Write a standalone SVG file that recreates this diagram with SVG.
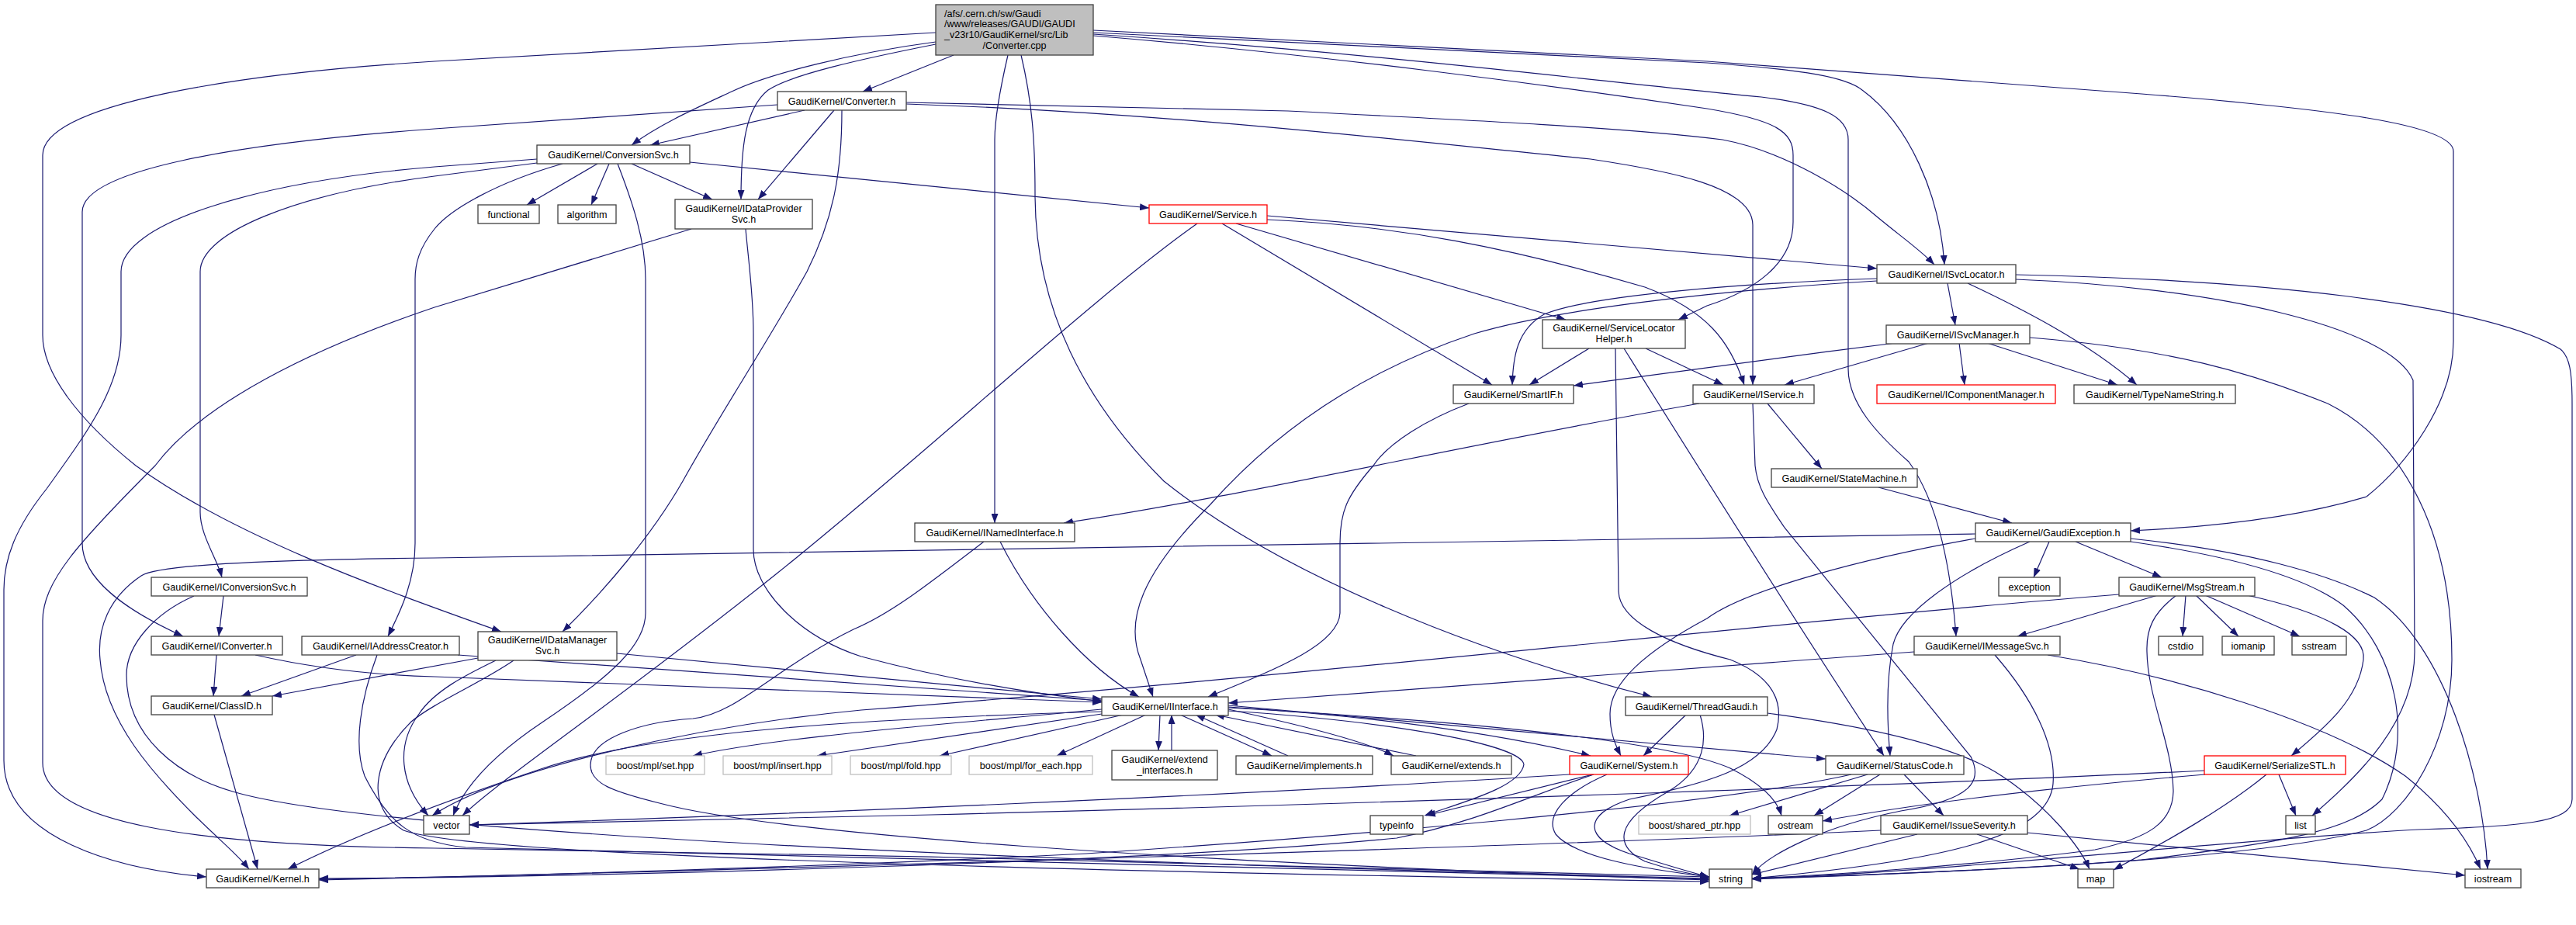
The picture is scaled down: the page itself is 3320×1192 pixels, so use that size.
<svg xmlns="http://www.w3.org/2000/svg" width="3320" height="1192" viewBox="0 0 3320 1192">
<defs>
<marker id="ah" markerUnits="userSpaceOnUse" markerWidth="12" markerHeight="9" refX="12" refY="4.5" orient="auto"><path d="M0,0 L12,4.5 L0,9 z" fill="#191970"/></marker>
<style>
.node rect{fill:#fff;stroke:#404040;stroke-width:1.3}
.node.gray rect{stroke:#bfbfbf}
.node.red rect{stroke:#ff0000}
.node.root rect{fill:#bfbfbf}
.node text{font-family:"Liberation Sans",Arial,Helvetica,sans-serif;font-size:12.6px;fill:#000;text-anchor:middle}
.node text.l{text-anchor:start}
#edges path{fill:none;stroke:#191970;stroke-width:1.2;marker-end:url(#ah)}
</style>
</defs>
<rect width="3320" height="1192" fill="#fff"/>
<g id="edges">
<path d="M1229,71 L1112,118"/>
<path d="M1206,54 C1100,68 990,95 943,118 C900,138 850,160 814,187"/>
<path d="M1206,57 C1110,76 1020,96 990,116 C960,140 955,190 955,257"/>
<path d="M1206,42 L560,79 C300,95 55,135 55,200 L55,432 C55,480 100,540 175,600 C300,690 480,755 646,814"/>
<path d="M1299,71 C1290,110 1282,150 1282,180 L1282,674"/>
<path d="M1316,71 C1330,130 1334,180 1334,250 C1334,400 1400,520 1500,620 C1650,740 1900,840 2129,898"/>
<path d="M1409,42 L2200,81 C2330,90 2380,100 2400,116 C2460,160 2500,250 2506,341"/>
<path d="M1409,46 C1700,70 2000,110 2200,140 C2290,155 2311,170 2311,200 L2311,286 C2311,340 2260,375 2200,394 L2163,412"/>
<path d="M1409,44 C1800,70 2100,110 2270,125 C2350,135 2382,150 2382,180 L2382,475 C2382,520 2420,560 2460,595 C2500,650 2515,740 2521,820"/>
<path d="M1409,39 L2200,79 L2760,121 C3000,140 3162,160 3162,195 L3162,440 C3162,520 3100,600 3050,640 C2950,670 2830,680 2746,684"/>
<path d="M1037,142 L838,187"/>
<path d="M1075,142 L977,257"/>
<path d="M1085,142 C1085,220 1075,280 1040,350 C990,440 930,530 880,620 C840,690 780,760 725,814"/>
<path d="M1002,135 L560,166 C300,185 106,220 106,273 L106,700 C106,750 170,790 236,820"/>
<path d="M1168,132 L1660,143 C1900,155 2100,165 2220,180 C2300,195 2380,245 2420,280 C2450,305 2475,322 2493,341"/>
<path d="M1168,134 C1500,145 1800,180 2050,205 C2150,220 2259,240 2259,290 L2259,496"/>
<path d="M770,211 L679,264"/>
<path d="M785,211 L762,264"/>
<path d="M814,211 L918,257"/>
<path d="M889,209 L1481,268"/>
<path d="M692,210 L560,227 C380,250 258,300 258,350 L258,660 C258,690 280,720 286,744"/>
<path d="M725,211 C640,235 580,270 560,295 C540,320 535,340 535,360 L535,700 C535,750 515,790 500,820"/>
<path d="M796,211 C815,260 832,310 832,360 L832,790 C832,830 790,870 700,930 C640,970 600,1010 584,1051"/>
<path d="M692,205 L560,215 C320,235 156,290 156,350 L156,432 C156,500 110,560 60,630 C20,680 5,720 5,760 L5,980 C5,1080 150,1120 266,1130"/>
<path d="M891,295 L560,396 C400,450 260,520 200,600 C100,700 55,750 55,800 L55,983 C55,1060 250,1090 560,1093 C1100,1100 1700,1115 2203,1130"/>
<path d="M961,295 C965,340 971,380 971,430 L971,708 C971,760 1030,820 1110,846 C1200,870 1300,890 1420,904"/>
<path d="M1543,288 C1400,390 1200,580 1000,740 C800,900 650,1000 596,1051"/>
<path d="M1633,278 L2419,346"/>
<path d="M1633,283 C1800,290 1950,320 2120,370 C2200,400 2230,440 2248,496"/>
<path d="M1575,288 L1923,496"/>
<path d="M1593,288 L2018,412"/>
<path d="M2510,365 L2520,419"/>
<path d="M2536,365 C2600,395 2690,440 2754,496"/>
<path d="M2419,359 C2250,365 2050,380 1990,405 C1955,425 1950,460 1949,496"/>
<path d="M2419,362 C2200,375 2000,400 1900,430 C1750,480 1640,560 1560,650 C1470,740 1450,800 1470,850 L1486,898"/>
<path d="M2598,354 C2900,360 3200,390 3300,450 C3312,460 3315,480 3315,520 L3315,1030 C3315,1060 3250,1065 3117,1069 C2900,1080 2500,1125 2258,1132"/>
<path d="M2598,360 C2850,370 3080,420 3110,490 L3112,840 C3112,930 3040,1000 2980,1051"/>
<path d="M2443,442 C2300,460 2150,480 2028,497"/>
<path d="M2486,442 L2300,496"/>
<path d="M2525,442 L2532,496"/>
<path d="M2561,442 L2729,496"/>
<path d="M2616,435 C2800,450 2900,480 3000,520 C3100,570 3160,690 3160,850 C3160,960 3100,1050 3050,1070 C2900,1110 2500,1125 2258,1132"/>
<path d="M2048,449 L1971,496"/>
<path d="M2121,449 L2221,496"/>
<path d="M2093,449 C2150,540 2300,780 2428,974"/>
<path d="M2082,449 L2086,761 C2086,800 2150,830 2230,850 C2280,870 2300,900 2290,940 C2270,990 2200,1010 2100,1030 C2040,1050 2040,1080 2100,1100 C2150,1115 2180,1125 2203,1130"/>
<path d="M2278,520 L2348,604"/>
<path d="M2190,520 C1900,570 1600,640 1371,674"/>
<path d="M2259,520 L2262,600 C2265,630 2280,650 2300,680 L2540,975 C2555,1005 2545,1030 2450,1045 C2350,1065 2280,1100 2258,1127"/>
<path d="M1893,520 C1840,540 1790,570 1770,600 C1735,640 1727,660 1727,700 L1727,790 C1725,830 1650,860 1557,898"/>
<path d="M2421,628 L2593,674"/>
<path d="M1289,698 C1330,780 1400,860 1468,898"/>
<path d="M1268,698 C1200,750 1150,790 1100,811 C1000,860 950,920 893,926 C830,930 761,950 761,986 C761,1010 790,1020 850,1035 C1000,1075 1500,1110 2203,1134"/>
<path d="M2546,688 L560,719 C300,722 200,730 182,742 C140,770 125,810 129,850 C135,930 200,1000 250,1050 C280,1080 305,1100 321,1120"/>
<path d="M2641,698 L2621,744"/>
<path d="M2675,698 L2786,744"/>
<path d="M2546,694 C2400,720 2250,760 2200,797 C2120,840 2075,880 2075,920 C2075,945 2082,960 2089,974"/>
<path d="M2616,698 C2520,740 2450,790 2440,830 C2430,880 2432,930 2436,974"/>
<path d="M2746,694 C2900,710 3000,740 3060,770 C3150,830 3200,1000 3206,1120"/>
<path d="M2746,698 C2900,720 2980,750 3020,780 C3090,840 3110,950 3070,1030 C3030,1070 2950,1085 2760,1108 C2600,1120 2400,1128 2258,1133"/>
<path d="M2817,767 L2813,820"/>
<path d="M2830,767 L2885,820"/>
<path d="M2842,767 L2964,820"/>
<path d="M2896,767 C3000,790 3050,820 3046,850 C3040,900 3000,935 2953,974"/>
<path d="M2781,767 L2600,820"/>
<path d="M2805,767 C2775,790 2766,810 2767,840 C2768,900 2800,960 2801,1020 C2800,1060 2770,1080 2700,1095 C2550,1115 2350,1128 2258,1132"/>
<path d="M2731,766 C2300,800 1700,870 1110,915 C900,935 650,990 557,1051"/>
<path d="M2467,840 L1583,906"/>
<path d="M2571,844 C2620,900 2650,960 2646,1010 C2640,1080 2500,1110 2258,1132"/>
<path d="M2639,844 C2800,870 3000,930 3100,1000 C3150,1040 3180,1080 3197,1120"/>
<path d="M288,768 L282,820"/>
<path d="M250,768 C200,790 163,830 163,870 C163,950 230,1000 300,1020 C500,1080 1500,1115 2203,1132"/>
<path d="M279,844 L275,897"/>
<path d="M329,844 C400,860 480,870 560,872 L1420,905"/>
<path d="M459,844 L311,897"/>
<path d="M590,844 L1420,903"/>
<path d="M486,844 C465,900 455,960 470,1000 C500,1060 530,1085 600,1092 C1200,1110 1800,1122 2203,1133"/>
<path d="M616,848 C500,870 420,885 351,897"/>
<path d="M795,842 L1420,901"/>
<path d="M639,851 C600,870 560,890 540,920 C510,960 515,1010 552,1051"/>
<path d="M662,851 C620,880 560,905 530,930 C480,980 470,1040 520,1070 C600,1100 1200,1120 2203,1136"/>
<path d="M276,921 L332,1120"/>
<path d="M1420,917 C1150,925 850,940 700,990 C550,1040 450,1080 371,1120"/>
<path d="M1420,914 C1200,935 1000,950 893,974"/>
<path d="M1420,920 L1053,974"/>
<path d="M1448,921 L1211,974"/>
<path d="M1477,921 L1362,974"/>
<path d="M1495,921 L1493,967"/>
<path d="M1510,967 L1510,921"/>
<path d="M1521,921 L1639,974"/>
<path d="M1660,974 L1541,921"/>
<path d="M1583,914 C1680,935 1760,955 1796,974"/>
<path d="M1825,974 L1566,921"/>
<path d="M1583,911 C1800,925 1950,950 2050,974"/>
<path d="M1583,909 L2353,978"/>
<path d="M1583,912 C1900,930 2150,955 2230,990 C2270,1010 2290,1030 2296,1051"/>
<path d="M1583,916 C1800,930 1960,960 1964,985 C1960,1015 1880,1035 1836,1051"/>
<path d="M2173,921 L2118,974"/>
<path d="M2191,921 C2200,950 2200,990 2150,1020 C2080,1060 2080,1090 2120,1110 C2150,1120 2180,1127 2203,1130"/>
<path d="M2278,919 C2400,935 2520,960 2580,1000 C2640,1040 2680,1090 2693,1120"/>
<path d="M2053,998 L1838,1051"/>
<path d="M2023,998 C1600,1025 1000,1050 605,1063"/>
<path d="M2054,998 C1960,1030 1900,1060 1800,1080 C1500,1110 800,1130 411,1132"/>
<path d="M2071,998 C2020,1020 1990,1050 2005,1075 C2030,1105 2120,1120 2203,1130"/>
<path d="M2407,998 L2229,1051"/>
<path d="M2423,998 L2338,1051"/>
<path d="M2454,998 L2505,1051"/>
<path d="M2386,998 C2200,1040 1700,1080 1400,1100 C1000,1120 600,1130 411,1133"/>
<path d="M2841,993 C2500,1010 1800,1035 1200,1050 C900,1058 700,1062 605,1063"/>
<path d="M2842,998 C2700,1010 2500,1030 2349,1058"/>
<path d="M2937,998 L2959,1051"/>
<path d="M2921,998 C2870,1040 2800,1080 2724,1121"/>
<path d="M2424,1070 C2000,1090 1000,1120 411,1134"/>
<path d="M2471,1075 L2258,1127"/>
<path d="M2548,1075 L2680,1120"/>
<path d="M2612,1073 L3177,1128"/>
</g>
<g id="n-root" class="node root"><rect x="1206" y="6" width="203" height="65"/><text class="l" x="1217" y="21.5">/afs/.cern.ch/sw/Gaudi</text><text class="l" x="1217" y="35">/www/releases/GAUDI/GAUDI</text><text class="l" x="1217" y="48.8">_v23r10/GaudiKernel/src/Lib</text><text x="1307.5" y="62.7">/Converter.cpp</text></g>
<g id="n-conv" class="node"><rect x="1002" y="118" width="166" height="24"/><text x="1085" y="134.5">GaudiKernel/Converter.h</text></g>
<g id="n-csvc" class="node"><rect x="692" y="187" width="197" height="24"/><text x="790.5" y="203.5">GaudiKernel/ConversionSvc.h</text></g>
<g id="n-func" class="node"><rect x="616" y="264" width="79" height="24"/><text x="655.5" y="280.5">functional</text></g>
<g id="n-algo" class="node"><rect x="719" y="264" width="75" height="24"/><text x="756.5" y="280.5">algorithm</text></g>
<g id="n-idp" class="node"><rect x="870" y="257" width="177" height="38"/><text x="958.5" y="272.5">GaudiKernel/IDataProvider</text><text x="958.5" y="286.5">Svc.h</text></g>
<g id="n-serv" class="node red"><rect x="1481" y="264" width="152" height="24"/><text x="1557" y="280.5">GaudiKernel/Service.h</text></g>
<g id="n-isl" class="node"><rect x="2419" y="341" width="179" height="24"/><text x="2508.5" y="357.5">GaudiKernel/ISvcLocator.h</text></g>
<g id="n-slh" class="node"><rect x="1988" y="412" width="184" height="37"/><text x="2080" y="427">GaudiKernel/ServiceLocator</text><text x="2080" y="441">Helper.h</text></g>
<g id="n-ism" class="node"><rect x="2431" y="419" width="185" height="24"/><text x="2523.5" y="435.5">GaudiKernel/ISvcManager.h</text></g>
<g id="n-sif" class="node"><rect x="1873" y="496" width="155" height="24"/><text x="1950.5" y="512.5">GaudiKernel/SmartIF.h</text></g>
<g id="n-isv" class="node"><rect x="2182" y="496" width="156" height="24"/><text x="2260" y="512.5">GaudiKernel/IService.h</text></g>
<g id="n-icm" class="node red"><rect x="2419" y="496" width="230" height="24"/><text x="2534" y="512.5">GaudiKernel/IComponentManager.h</text></g>
<g id="n-tns" class="node"><rect x="2673" y="496" width="208" height="24"/><text x="2777" y="512.5">GaudiKernel/TypeNameString.h</text></g>
<g id="n-stm" class="node"><rect x="2283" y="604" width="188" height="24"/><text x="2377" y="620.5">GaudiKernel/StateMachine.h</text></g>
<g id="n-ini" class="node"><rect x="1179" y="674" width="206" height="24"/><text x="1282" y="690.5">GaudiKernel/INamedInterface.h</text></g>
<g id="n-gex" class="node"><rect x="2546" y="674" width="200" height="24"/><text x="2646" y="690.5">GaudiKernel/GaudiException.h</text></g>
<g id="n-ics" class="node"><rect x="195" y="744" width="201" height="24"/><text x="295.5" y="760.5">GaudiKernel/IConversionSvc.h</text></g>
<g id="n-exc" class="node"><rect x="2576" y="744" width="79" height="24"/><text x="2615.5" y="760.5">exception</text></g>
<g id="n-msg" class="node"><rect x="2731" y="744" width="175" height="24"/><text x="2818.5" y="760.5">GaudiKernel/MsgStream.h</text></g>
<g id="n-icv" class="node"><rect x="195" y="820" width="169" height="24"/><text x="279.5" y="836.5">GaudiKernel/IConverter.h</text></g>
<g id="n-iac" class="node"><rect x="389" y="820" width="203" height="24"/><text x="490.5" y="836.5">GaudiKernel/IAddressCreator.h</text></g>
<g id="n-idm" class="node"><rect x="616" y="814" width="179" height="37"/><text x="705.5" y="829">GaudiKernel/IDataManager</text><text x="705.5" y="843">Svc.h</text></g>
<g id="n-ims" class="node"><rect x="2467" y="820" width="188" height="24"/><text x="2561" y="836.5">GaudiKernel/IMessageSvc.h</text></g>
<g id="n-cstdio" class="node"><rect x="2782" y="820" width="57" height="24"/><text x="2810.5" y="836.5">cstdio</text></g>
<g id="n-iomanip" class="node"><rect x="2864" y="820" width="67" height="24"/><text x="2897.5" y="836.5">iomanip</text></g>
<g id="n-sstream" class="node"><rect x="2954" y="820" width="70" height="24"/><text x="2989" y="836.5">sstream</text></g>
<g id="n-cid" class="node"><rect x="195" y="897" width="156" height="24"/><text x="273" y="913.5">GaudiKernel/ClassID.h</text></g>
<g id="n-iif" class="node"><rect x="1420" y="898" width="163" height="24"/><text x="1501.5" y="914.5">GaudiKernel/IInterface.h</text></g>
<g id="n-thg" class="node"><rect x="2095" y="898" width="183" height="24"/><text x="2186.5" y="914.5">GaudiKernel/ThreadGaudi.h</text></g>
<g id="n-set" class="node gray"><rect x="781" y="974" width="127" height="24"/><text x="844.5" y="990.5">boost/mpl/set.hpp</text></g>
<g id="n-insert" class="node gray"><rect x="932" y="974" width="140" height="24"/><text x="1002" y="990.5">boost/mpl/insert.hpp</text></g>
<g id="n-fold" class="node gray"><rect x="1096" y="974" width="130" height="24"/><text x="1161" y="990.5">boost/mpl/fold.hpp</text></g>
<g id="n-foreach" class="node gray"><rect x="1249" y="974" width="159" height="24"/><text x="1328.5" y="990.5">boost/mpl/for_each.hpp</text></g>
<g id="n-ext" class="node"><rect x="1433" y="967" width="136" height="38"/><text x="1501" y="982.5">GaudiKernel/extend</text><text x="1501" y="996.5">_interfaces.h</text></g>
<g id="n-impl" class="node"><rect x="1593" y="974" width="176" height="24"/><text x="1681" y="990.5">GaudiKernel/implements.h</text></g>
<g id="n-exts" class="node"><rect x="1793" y="974" width="155" height="24"/><text x="1870.5" y="990.5">GaudiKernel/extends.h</text></g>
<g id="n-sys" class="node red"><rect x="2023" y="974" width="153" height="24"/><text x="2099.5" y="990.5">GaudiKernel/System.h</text></g>
<g id="n-stc" class="node"><rect x="2353" y="974" width="178" height="24"/><text x="2442" y="990.5">GaudiKernel/StatusCode.h</text></g>
<g id="n-ser" class="node red"><rect x="2841" y="974" width="182" height="24"/><text x="2932" y="990.5">GaudiKernel/SerializeSTL.h</text></g>
<g id="n-vec" class="node"><rect x="546" y="1051" width="59" height="24"/><text x="575.5" y="1067.5">vector</text></g>
<g id="n-tinfo" class="node"><rect x="1766" y="1051" width="68" height="24"/><text x="1800" y="1067.5">typeinfo</text></g>
<g id="n-shp" class="node gray"><rect x="2112" y="1051" width="144" height="24"/><text x="2184" y="1067.5">boost/shared_ptr.hpp</text></g>
<g id="n-ost" class="node"><rect x="2279" y="1051" width="70" height="24"/><text x="2314" y="1067.5">ostream</text></g>
<g id="n-isev" class="node"><rect x="2424" y="1051" width="189" height="24"/><text x="2518.5" y="1067.5">GaudiKernel/IssueSeverity.h</text></g>
<g id="n-list" class="node"><rect x="2946" y="1051" width="38" height="24"/><text x="2965" y="1067.5">list</text></g>
<g id="n-ker" class="node"><rect x="266" y="1120" width="145" height="24"/><text x="338.5" y="1136.5">GaudiKernel/Kernel.h</text></g>
<g id="n-str" class="node"><rect x="2203" y="1120" width="55" height="24"/><text x="2230.5" y="1136.5">string</text></g>
<g id="n-map" class="node"><rect x="2678" y="1120" width="46" height="24"/><text x="2701" y="1136.5">map</text></g>
<g id="n-ios" class="node"><rect x="3177" y="1120" width="72" height="24"/><text x="3213" y="1136.5">iostream</text></g>
</svg>
